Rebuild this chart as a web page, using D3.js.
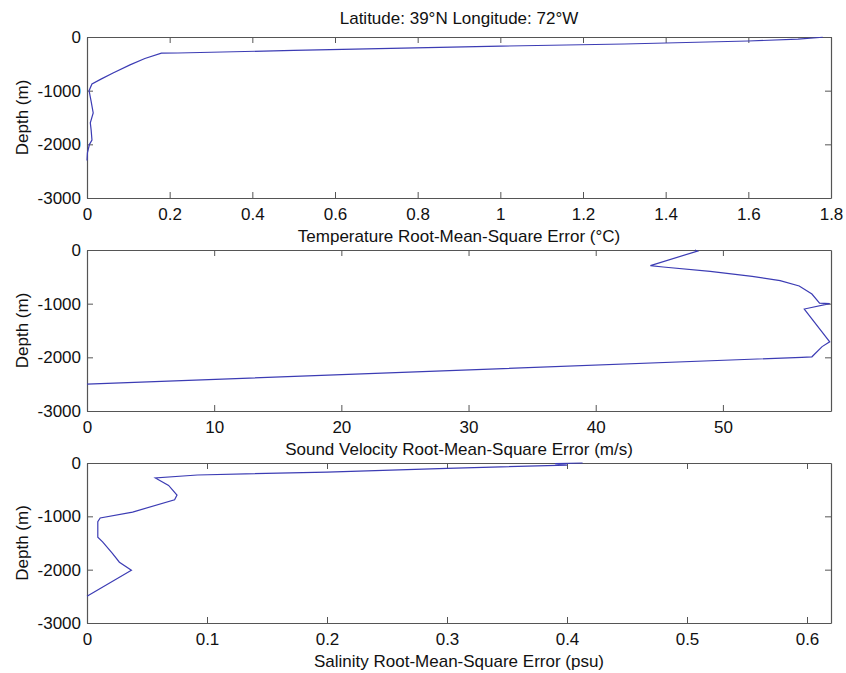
<!DOCTYPE html>
<html>
<head>
<meta charset="utf-8">
<script src="https://cdn.jsdelivr.net/npm/d3@7"></script>
<style>
  html, body { margin: 0; padding: 0; background: #fff; }
  svg { display: block; font-family: "Liberation Sans", Arial, sans-serif; }
</style>
</head>
<body>
<svg id="chart" width="846" height="673"></svg>
<script>
// ---- data ----
const chartTitle = "Latitude: 39°N Longitude: 72°W";
const yLabel = "Depth (m)";
const depthTicks = [0, -1000, -2000, -3000];

const tempLabel = "Temperature Root-Mean-Square Error (°C)";
const tempTicks = [0, 0.2, 0.4, 0.6, 0.8, 1, 1.2, 1.4, 1.6, 1.8];
const tempMax = 1.8;
const tempDepth = [-5, -40, -75, -130, -170, -250, -298, -300, -400, -520, -670, -780, -875, -1000, -1200, -1415, -1600, -1730, -1920, -2000, -2160, -2300];
const tempRmse  = [1.78, 1.72, 1.6, 1.3, 1.0, 0.5, 0.22, 0.18, 0.14, 0.104, 0.063, 0.035, 0.012, 0.005, 0.01, 0.015, 0.008, 0.01, 0.012, 0.006, 0.001, 0];

const soundLabel = "Sound Velocity Root-Mean-Square Error (m/s)";
const soundTicks = [0, 10, 20, 30, 40, 50];
const soundMax = 58.5;
const soundDepth = [0, -20, -290, -317, -400, -490, -570, -670, -820, -990, -1000, -1100, -1710, -1800, -1990, -2000, -2500];
const soundRmse  = [47.8, 48.0, 44.3, 45.3, 49.0, 52.3, 54.5, 56.0, 57.0, 57.6, 58.4, 56.4, 58.4, 57.8, 57.0, 56.2, 0];

const salLabel = "Salinity Root-Mean-Square Error (psu)";
const salTicks = [0, 0.1, 0.2, 0.3, 0.4, 0.5, 0.6];
const salMax = 0.62;
const salDepth = [0, -10, -40, -100, -170, -225, -280, -420, -600, -690, -920, -1030, -1100, -1390, -1480, -1690, -1860, -2010, -2500];
const salRmse  = [0.413, 0.39, 0.4, 0.3, 0.2, 0.092, 0.057, 0.068, 0.075, 0.073, 0.038, 0.011, 0.009, 0.009, 0.013, 0.021, 0.027, 0.037, 0];

// ---- layout ----
const svg = d3.select("#chart");
const left = 87, right = 831;
const panels = [
  { top: 37,  bottom: 198, ticks: tempTicks,  max: tempMax,  xs: tempRmse,  ys: tempDepth,  label: tempLabel },
  { top: 250, bottom: 411, ticks: soundTicks, max: soundMax, xs: soundRmse, ys: soundDepth, label: soundLabel },
  { top: 463, bottom: 623, ticks: salTicks,   max: salMax,   xs: salRmse,   ys: salDepth,   label: salLabel }
];
const axisColor = "#555";
const lineColor = "#3c3cb4";
const fontSize = 17;

svg.append("text")
  .attr("x", (left + right) / 2).attr("y", 24)
  .attr("text-anchor", "middle")
  .attr("font-size", fontSize).attr("fill", "#111")
  .text(chartTitle);

panels.forEach(p => {
  const x = d3.scaleLinear().domain([0, p.max]).range([left, right]);
  const y = d3.scaleLinear().domain([-3000, 0]).range([p.bottom, p.top]);
  const g = svg.append("g");

  const styleAxis = sel => {
    sel.selectAll("path.domain").attr("stroke", axisColor).attr("stroke-width", 1.2);
    sel.selectAll(".tick line").attr("stroke", axisColor).attr("stroke-width", 1);
    sel.selectAll(".tick text").attr("fill", "#111").attr("font-size", fontSize)
      .attr("font-family", "Liberation Sans, Arial, sans-serif");
  };

  // bottom
  g.append("g").attr("transform", `translate(0,${p.bottom})`)
    .call(d3.axisBottom(x).tickValues(p.ticks).tickFormat(d => String(d))
      .tickSizeInner(-6).tickSizeOuter(0).tickPadding(10))
    .call(styleAxis);
  // top
  g.append("g").attr("transform", `translate(0,${p.top})`)
    .call(d3.axisTop(x).tickValues(p.ticks).tickFormat("")
      .tickSizeInner(-6).tickSizeOuter(0))
    .call(styleAxis);
  // left
  g.append("g").attr("transform", `translate(${left},0)`)
    .call(d3.axisLeft(y).tickValues(depthTicks).tickFormat(d => String(d))
      .tickSizeInner(-6).tickSizeOuter(0).tickPadding(6))
    .call(styleAxis);
  // right
  g.append("g").attr("transform", `translate(${right},0)`)
    .call(d3.axisRight(y).tickValues(depthTicks).tickFormat("")
      .tickSizeInner(-6).tickSizeOuter(0))
    .call(styleAxis);

  // data line
  const pts = p.xs.map((v, i) => [v, p.ys[i]]);
  g.append("path")
    .datum(pts)
    .attr("fill", "none")
    .attr("stroke", lineColor)
    .attr("stroke-width", 1.2)
    .attr("d", d3.line().x(d => x(d[0])).y(d => y(d[1])));

  // x label
  g.append("text")
    .attr("x", (left + right) / 2).attr("y", p.bottom + 44)
    .attr("text-anchor", "middle")
    .attr("font-size", fontSize).attr("fill", "#111")
    .text(p.label);

  // y label
  g.append("text")
    .attr("transform", `translate(28,${(p.top + p.bottom) / 2}) rotate(-90)`)
    .attr("text-anchor", "middle")
    .attr("font-size", fontSize).attr("fill", "#111")
    .text(yLabel);
});
</script>
</body>
</html>
